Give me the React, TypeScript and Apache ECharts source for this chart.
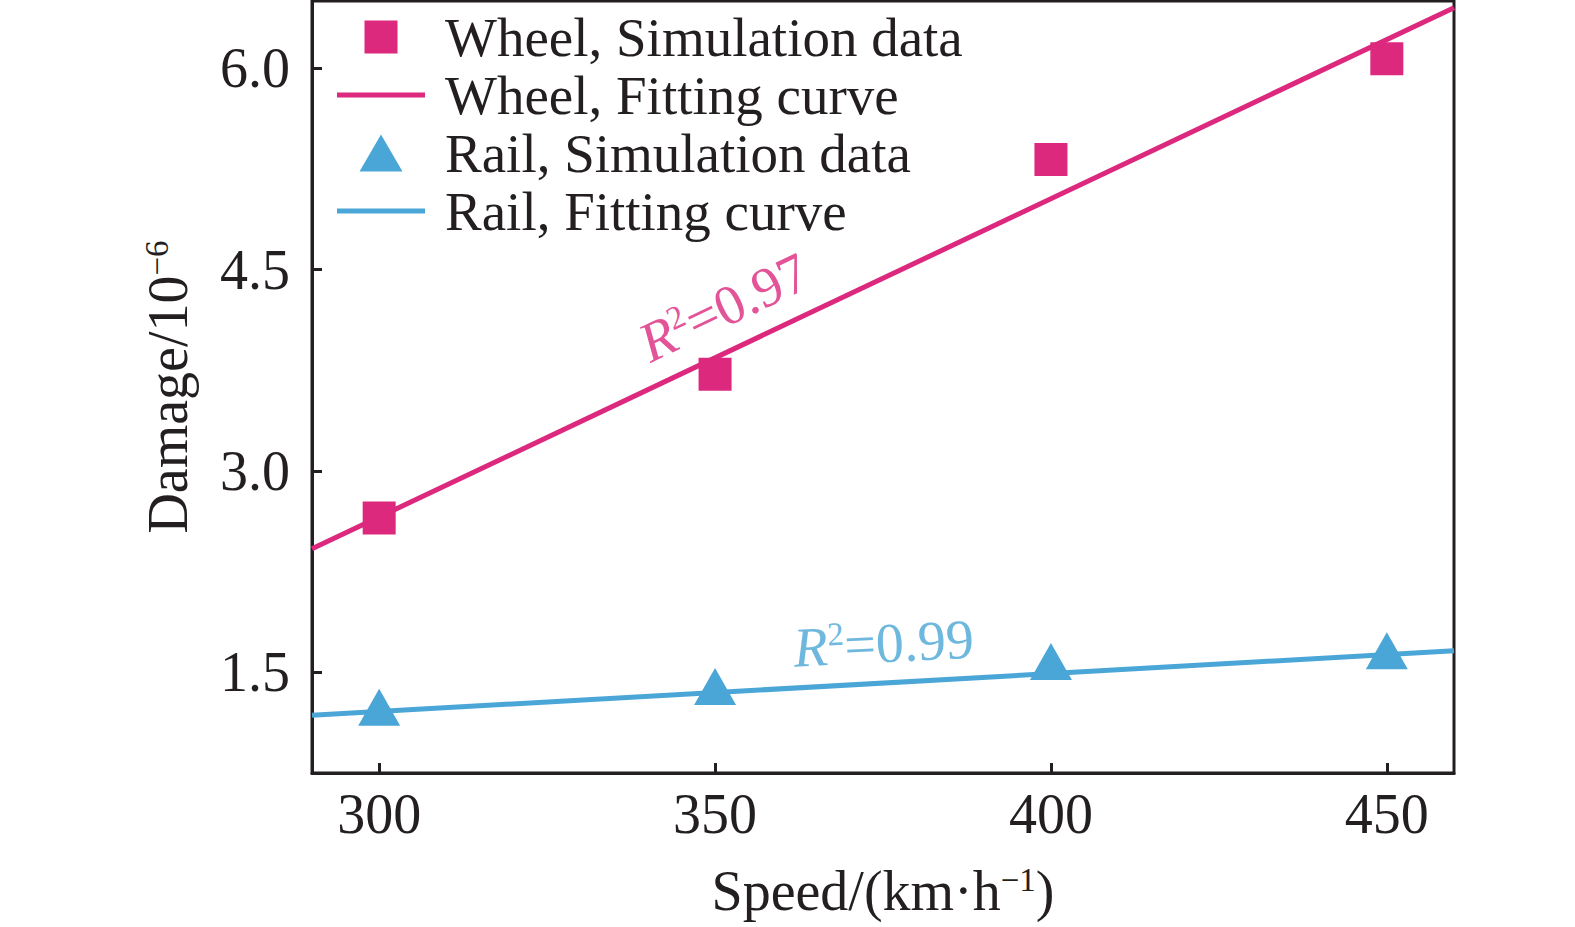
import React, { useEffect, useRef } from "react";
import * as echarts from "echarts";

const speeds = [300, 350, 400, 450];
const wheelSim = [2.65, 3.72, 5.32, 6.07];
const railSim = [1.24, 1.395, 1.58, 1.66];
const fitX = [290, 460];
const wheelFit = [2.42, 6.45];
const railFit = [1.18, 1.66];
const xTicks = [300, 350, 400, 450];
const yTicks = [1.5, 3.0, 4.5, 6.0];
const wheelR2 = { x: 351.3, y: 4.22, text: "0.97" };
const railR2 = { x: 375.1, y: 1.717, text: "0.99" };

const PINK = "#DC287D";
const BLUE = "#4AA6D6";
const INK = "#231F20";
const FONT = "'Liberation Serif', 'Times New Roman', serif";
const FS = 56;

const ICON_SQUARE =
  "path://M0,0L0.01,0L0,0.01Z M37,37L36.99,37L37,36.99Z M2,2L35,2L35,35L2,35Z";
const ICON_TRIANGLE = "path://M21.5,0L43,37L0,37Z";
const ICON_LINE = "path://M0,0L88,0L88,5L0,5Z";

export default function App() {
  const ref = useRef<HTMLDivElement>(null);
  useEffect(() => {
    if (!ref.current) return;
    const chart = echarts.init(ref.current, undefined, { renderer: "svg" });
    const supStyle = (color: string) => ({
      fontFamily: FONT,
      fontSize: 33,
      color,
      verticalAlign: "top",
      lineHeight: 33,
      padding: [0, 0, 25, 0],
    });
    const r2Rich = (color: string) => ({
      i: { fontFamily: FONT, fontSize: FS, fontStyle: "italic", color, lineHeight: FS },
      s: supStyle(color),
      n: { fontFamily: FONT, fontSize: FS, color, lineHeight: FS },
    });
    chart.setOption({
      animation: false,
      backgroundColor: "#ffffff",
      textStyle: { fontFamily: FONT, color: INK },
      grid: {
        left: 312,
        right: 121,
        top: 1,
        bottom: 154,
        show: true,
        borderColor: INK,
        borderWidth: 3,
        backgroundColor: "transparent",
      },
      legend: {
        left: 337,
        top: 9,
        padding: 0,
        orient: "vertical",
        itemWidth: 88,
        itemHeight: 37,
        itemGap: 2,
        symbolKeepAspect: true,
        data: [
          { name: "Wheel, Simulation data", icon: ICON_SQUARE },
          { name: "Wheel, Fitting curve", icon: ICON_LINE },
          { name: "Rail, Simulation data", icon: ICON_TRIANGLE },
          { name: "Rail, Fitting curve", icon: ICON_LINE },
        ],
        textStyle: {
          fontFamily: FONT,
          fontSize: 55,
          lineHeight: FS,
          color: INK,
          padding: [0, 0, 0, 15],
        },
      },
      xAxis: {
        type: "value",
        min: fitX[0],
        max: fitX[1],
        name: "Speed/(km·h{s|−1})",
        nameLocation: "middle",
        nameGap: 90,
        nameTextStyle: {
          fontFamily: FONT,
          fontSize: FS,
          color: INK,
          rich: { s: supStyle(INK) },
        },
        axisLine: { show: true, lineStyle: { color: INK, width: 3 } },
        axisTick: { show: true, inside: true, length: 10, lineStyle: { color: INK, width: 3 }, customValues: xTicks },
        axisLabel: { fontFamily: FONT, fontSize: FS, color: INK, margin: 13, customValues: xTicks },
        splitLine: { show: false },
      },
      yAxis: {
        type: "value",
        min: 0.75,
        max: 6.5,
        name: "Damage/10{s|−6}",
        nameLocation: "middle",
        nameRotate: 90,
        nameGap: 116,
        nameTextStyle: {
          fontFamily: FONT,
          fontSize: FS,
          color: INK,
          rich: { s: supStyle(INK) },
        },
        axisLine: { show: true, lineStyle: { color: INK, width: 3 } },
        axisTick: { show: true, inside: true, length: 10, lineStyle: { color: INK, width: 3 }, customValues: yTicks },
        axisLabel: {
          fontFamily: FONT,
          fontSize: FS,
          color: INK,
          margin: 22,
          customValues: yTicks,
          formatter: (v: number) => v.toFixed(1),
        },
        splitLine: { show: false },
      },
      series: [
        {
          name: "Wheel, Fitting curve",
          type: "line",
          data: fitX.map((x, i) => [x, wheelFit[i]]),
          symbol: "none",
          lineStyle: { color: PINK, width: 5 },
          itemStyle: { color: PINK },
          z: 2,
        },
        {
          name: "Rail, Fitting curve",
          type: "line",
          data: fitX.map((x, i) => [x, railFit[i]]),
          symbol: "none",
          lineStyle: { color: BLUE, width: 5 },
          itemStyle: { color: BLUE },
          z: 2,
        },
        {
          name: "Wheel, Simulation data",
          type: "scatter",
          data: speeds.map((x, i) => [x, wheelSim[i]]),
          symbol: "rect",
          symbolSize: 33,
          itemStyle: { color: PINK, opacity: 1 },
          z: 3,
        },
        {
          name: "Rail, Simulation data",
          type: "scatter",
          data: speeds.map((x, i) => [x, railSim[i]]),
          symbol: "triangle",
          symbolSize: [42, 37],
          itemStyle: { color: BLUE, opacity: 1 },
          z: 3,
        },
        {
          name: "wheelR2",
          type: "scatter",
          data: [[wheelR2.x, wheelR2.y]],
          symbolSize: 0,
          silent: true,
          label: {
            show: true,
            position: "inside",
            rotate: 25.5,
            formatter: "{i|R}{s|2}{n|=" + wheelR2.text + "}",
            rich: r2Rich(PINK),
          },
          z: 4,
        },
        {
          name: "railR2",
          type: "scatter",
          data: [[railR2.x, railR2.y]],
          symbolSize: 0,
          silent: true,
          label: {
            show: true,
            position: "inside",
            rotate: 3,
            formatter: "{i|R}{s|2}{n|=" + railR2.text + "}",
            rich: r2Rich(BLUE),
          },
          z: 4,
        },
      ],
    });
    return () => chart.dispose();
  }, []);
  return (
    <div
      ref={ref}
      style={{ position: "absolute", left: 0, top: 0, width: 1575, height: 927, background: "#fff" }}
    />
  );
}
